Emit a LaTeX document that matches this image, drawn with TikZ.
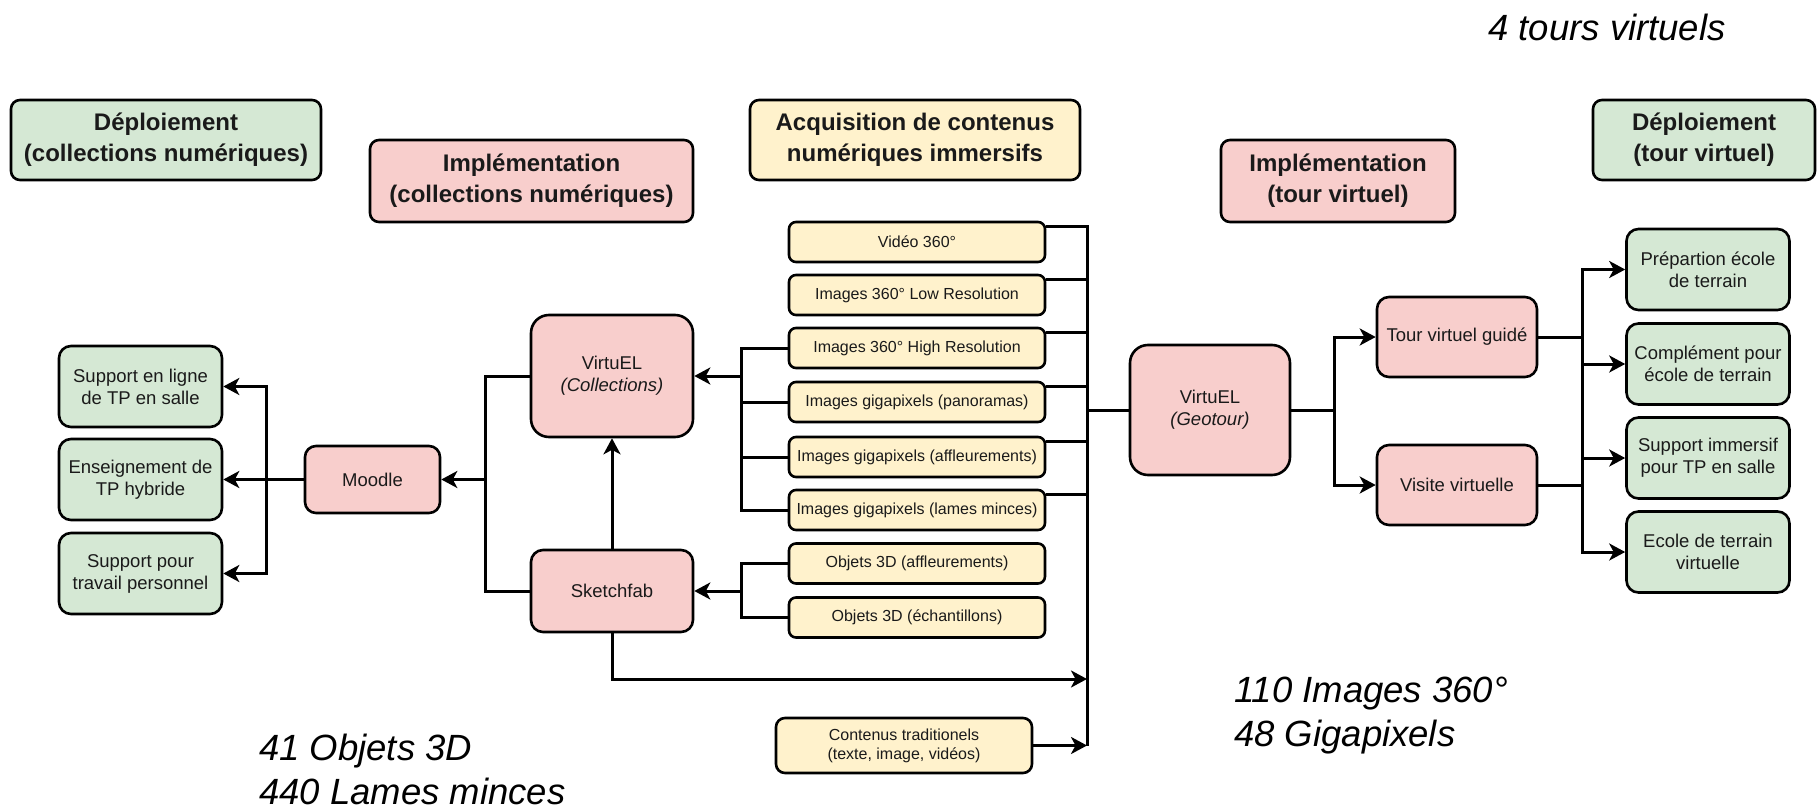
\documentclass[tikz,border=0pt]{standalone}
\usepackage{fontspec}
\setmainfont{Liberation Sans}
\usetikzlibrary{arrows.meta,calc}
\definecolor{greenF}{HTML}{D5E8D4}
\definecolor{pinkF}{HTML}{F8CECC}
\definecolor{yellowF}{HTML}{FFF2CC}
\definecolor{inkC}{HTML}{1A1A1A}
\tikzset{
  box/.style={draw=black, line width=2.6pt, rounded corners=9pt, inner sep=0pt, align=center, text=inkC},
  grn/.style={box, fill=greenF},
  pnk/.style={box, fill=pinkF},
  ylw/.style={box, fill=yellowF},
  hdr/.style={font=\fontsize{24}{31}\selectfont\bfseries},
  sm/.style={font=\fontsize{18.5}{22}\selectfont},
  xs/.style={font=\fontsize{16}{19}\selectfont},
  conn/.style={line width=3pt},
  arr/.style={conn, -{Stealth[length=16pt,width=17pt,inset=4.5pt]}},
  note/.style={font=\fontsize{36.5}{44}\selectfont\itshape, inner sep=0pt, text=black},
  ybox/.style={ylw, xs, minimum width=256pt, minimum height=40pt, rounded corners=7pt},
  gbox/.style={grn, sm, minimum width=163pt, minimum height=81pt, rounded corners=12pt},
}
\begin{document}
\begin{tikzpicture}[x=1pt, y=-1pt]
\useasboundingbox[fill=white] (0,0) rectangle (1818,811);

% headers
\node[grn, hdr, minimum width=310pt, minimum height=80pt] (d1) at (166,140) {Déploiement\\(collections numériques)};
\node[pnk, hdr, minimum width=323pt, minimum height=82pt] (i1) at (531.5,181) {Implémentation\\(collections numériques)};
\node[ylw, hdr, minimum width=330pt, minimum height=80pt] (acq) at (915,140) {Acquisition de contenus\\numériques immersifs};
\node[pnk, hdr, minimum width=234pt, minimum height=82pt] (i2) at (1338,181) {Implémentation\\(tour virtuel)};
\node[grn, hdr, minimum width=222pt, minimum height=80pt] (d2) at (1704,140) {Déploiement\\(tour virtuel)};

% notes
\node[note, anchor=base] (n4) at (1607,40) {4 tours virtuels};
\node[note, anchor=base west] (n110) at (1234,702) {110 Images 360°};
\node[note, anchor=base west] (n48) at (1234,746) {48 Gigapixels};
\node[note, anchor=base west] (n41) at (259,760) {41 Objets 3D};
\node[note, anchor=base west] (n440) at (259,804) {440 Lames minces};

% left greens
\node[gbox] (g1) at (140.5,386.5) {Support en ligne\\de TP en salle};
\node[gbox] (g2) at (140.5,479.5) {Enseignement de\\TP hybride};
\node[gbox] (g3) at (140.5,573.5) {Support pour\\travail personnel};

% pinks left
\node[pnk, sm, minimum width=135pt, minimum height=67pt, rounded corners=11pt] (moodle) at (372.5,479.5) {Moodle};
\node[pnk, sm, minimum width=162pt, minimum height=122pt, rounded corners=18pt] (vc) at (612,376) {VirtuEL\\\textit{(Collections)}};
\node[pnk, sm, minimum width=162pt, minimum height=82pt, rounded corners=12pt] (sk) at (612,591) {Sketchfab};

% yellows
\node[ybox] (y1) at (917,242) {Vidéo 360°};
\node[ybox] (y2) at (917,295) {Images 360° Low Resolution};
\node[ybox] (y3) at (917,348) {Images 360° High Resolution};
\node[ybox] (y4) at (917,402) {Images gigapixels (panoramas)};
\node[ybox] (y5) at (917,457) {Images gigapixels (affleurements)};
\node[ybox] (y6) at (917,510) {Images gigapixels (lames minces)};
\node[ybox] (y7) at (917,563.5) {Objets 3D (affleurements)};
\node[ybox] (y8) at (917,617.5) {Objets 3D (échantillons)};
\node[ylw, xs, minimum width=256pt, minimum height=55pt, rounded corners=9pt] (cont) at (904,745.5) {Contenus traditionels\\(texte, image, vidéos)};

% right side
\node[pnk, sm, minimum width=160pt, minimum height=130pt, rounded corners=18pt] (geo) at (1210,410) {VirtuEL\\\textit{(Geotour)}};
\node[pnk, sm, minimum width=160pt, minimum height=80pt, rounded corners=12pt] (tg) at (1457,337) {Tour virtuel guidé};
\node[pnk, sm, minimum width=160pt, minimum height=80pt, rounded corners=12pt] (vv) at (1457,485) {Visite virtuelle};
\node[gbox] (r1) at (1708,269.5) {Prépartion école\\de terrain};
\node[gbox] (r2) at (1708,364) {Complément pour\\école de terrain};
\node[gbox] (r3) at (1708,458) {Support immersif\\pour TP en salle};
\node[gbox] (r4) at (1708,552) {Ecole de terrain\\virtuelle};

% junction coordinates
\coordinate (jL) at (266,479.5);
\coordinate (jM) at (485,479.5);
\coordinate (jY1) at (741,376);
\coordinate (jY2) at (741,591);
\coordinate (bus) at (1087,410);
\coordinate (busS) at (1087,679);
\coordinate (busE) at (1087,745.5);
\coordinate (jG) at (1334,410);
\coordinate (jR) at (1582,410);

% left connectors
\draw[conn] (moodle.west) -- (jL);
\draw[arr] (jL) |- (g1.east);
\draw[arr] (jL) -- (g2.east);
\draw[arr] (jL) |- (g3.east);
\draw[arr] (jM) -- (moodle.east);
\draw[conn] (vc.west) -| (jM);
\draw[conn] (sk.west) -| (jM);
\draw[arr] (sk.north) -- (vc.south);

% yellows to VirtuEL / Sketchfab
\draw[arr] (jY1) -- (vc.east);
\draw[conn] (y3.west) -| (jY1);
\draw[conn] (y4.west) -| (jY1);
\draw[conn] (y5.west) -| (jY1);
\draw[conn] (y6.west) -| (jY1);
\draw[arr] (jY2) -- (sk.east);
\draw[conn] (y7.west) -| (jY2);
\draw[conn] (y8.west) -| (jY2);

% yellows to bus
\foreach \n in {y1,y2,y3,y4,y5,y6}{
  \draw[conn] ($(\n.north east)+(0,6)$) -| (bus);
}
\draw[conn] (bus) -- (busE);
\draw[arr] (sk.south) |- (busS);
\draw[arr] (cont.east) -- (busE);
\draw[conn] (bus) -- (geo.west);

% geotour
\draw[conn] (geo.east) -- (jG);
\draw[arr] (jG) |- (tg.west);
\draw[arr] (jG) |- (vv.west);
\draw[conn] (tg.east) -| (jR);
\draw[conn] (vv.east) -| (jR);
\draw[arr] (jR) |- (r1.west);
\draw[arr] (jR) |- (r2.west);
\draw[arr] (jR) |- (r3.west);
\draw[arr] (jR) |- (r4.west);
\end{tikzpicture}
\end{document}
